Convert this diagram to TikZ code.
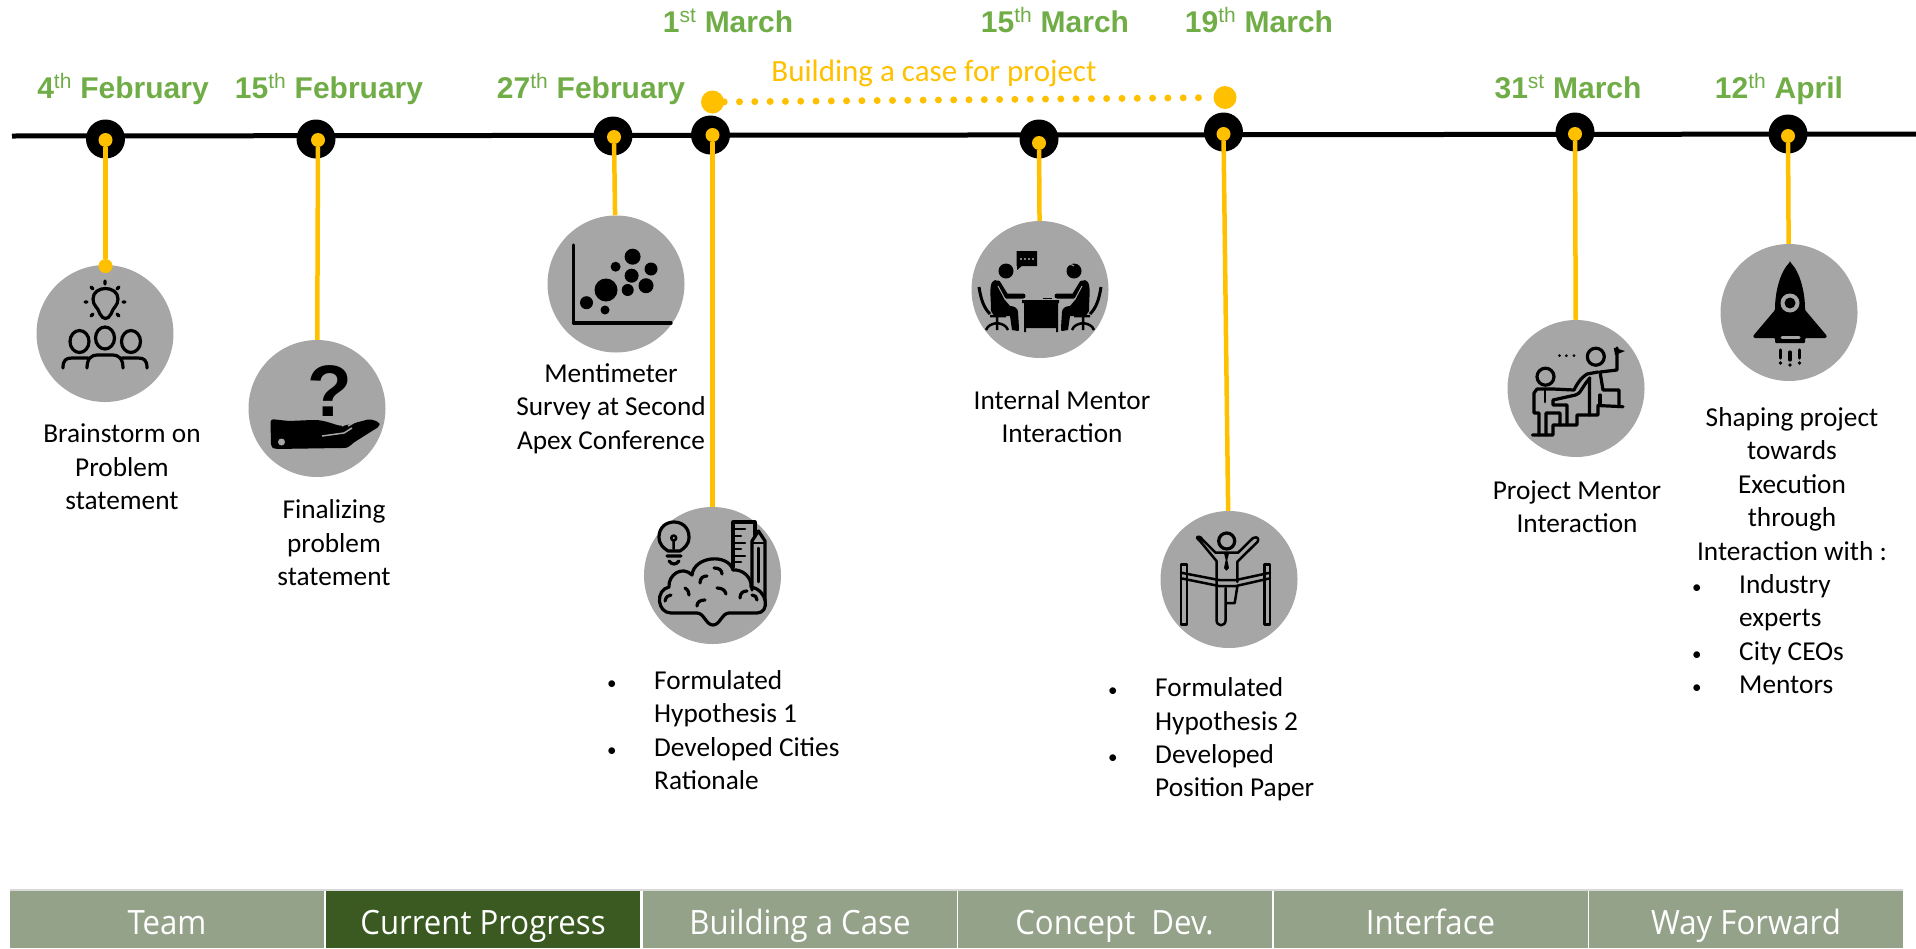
\documentclass[tikz,border=0pt]{standalone}
\usepackage{fontspec}
\setmainfont{Carlito}
\newfontfamily\datefont{Liberation Sans}
\newfontfamily\tabfont[FakeStretch=0.93]{Open Sans}
\definecolor{pinyellow}{HTML}{FFC000}
\definecolor{dategreen}{HTML}{70AD47}
\definecolor{badgegrey}{HTML}{A6A6A6}
\definecolor{tabgreen}{HTML}{95A28A}
\definecolor{tabdark}{HTML}{3A5A22}
\newcommand{\listmark}{\makebox[47pt][l]{\fontsize{19}{19}\selectfont\textbullet}}
\newcommand{\listgap}{\hspace*{47pt}}
\newcommand{\sitter}{
    \fill (1006,271) circle [radius=7.5];
    \fill (995,280) .. controls (990,281) and (990,290) .. (990.7,300) -- (991,311) .. controls (992,314) and (994,316) .. (998,316) -- (1010,316) -- (1012,330) -- (1018,331) .. controls (1019,331) and (1019,330) .. (1019,328) -- (1018,312) .. controls (1018,308) and (1014,306) .. (1010,306) -- (1004,299) -- (1000,282) -- cycle;
    \draw [line width=5pt, line cap=round, line join=round] (998,283) -- (1006,296) -- (1023,296);
    \draw [draw=badgegrey, line width=1pt] (998,286) -- (1005,299);
    \draw [line width=3pt] (979,287) .. controls (981,300) and (984,308) .. (990,314);
    \draw [line width=2.5pt] (990,316) -- (1006,316) (997,316) -- (997,323) (986,330) .. controls (988,325) and (992,324) .. (997,323) .. controls (1002,324) and (1006,325) .. (1008,330) (997,323) -- (997,330);
}
\tikzset{
    spine/.style={draw=black, line width=5pt},
    mile/.style={circle, fill=black, inner sep=0pt, minimum size=39pt},
    pin/.style={circle, fill=pinyellow, inner sep=0pt, minimum size=14pt},
    flagdot/.style={circle, fill=pinyellow, inner sep=0pt, minimum size=23pt},
    badge/.style={circle, fill=badgegrey, inner sep=0pt, minimum size=137pt},
    stem/.style={draw=pinyellow, line width=4.5pt},
    datelabel/.style={anchor=base, text=dategreen, font=\datefont\bfseries\fontsize{30}{33}\selectfont},
    desc/.style={align=center, inner sep=0pt, font=\fontsize{27.3}{33.4}\selectfont},
    listing/.style={anchor=west, align=left, inner sep=0pt, font=\fontsize{27.3}{33.4}\selectfont},
    tab/.style={fill=tabgreen, text=white, inner sep=0pt, minimum width=314pt, minimum height=58pt, text height=39pt, text depth=8pt, font=\tabfont\fontsize{33.5}{36}\selectfont},
    iconline/.style={draw=black, line width=3.2pt, line cap=round, line join=round},
    iconthin/.style={draw=black, line width=2.5pt, line cap=round, line join=round}
}
\begin{document}
\begin{tikzpicture}[x=1pt, y=-1pt]
    \useasboundingbox (0,0) rectangle (1916,948);

    \coordinate (s) at (12,136);
    \coordinate (e) at (1916,134);
    \draw [spine] (s) -- (e);

    \node[mile] (m1) at (105.5,139) {};
    \node[mile] (m2) at (316,139) {};
    \node[mile] (m3) at (613,136) {};
    \node[mile] (m4) at (710.5,135) {};
    \node[mile] (m5) at (1039,139) {};
    \node[mile] (m6) at (1223.5,132) {};
    \node[mile] (m7) at (1575,132) {};
    \node[mile] (m8) at (1788,134) {};

    \node[pin] (p1) at (105.5,140) {};
    \node[pin] (p2) at (318,140) {};
    \node[pin] (p3) at (614,137) {};
    \node[pin] (p4) at (712.5,135) {};
    \node[pin] (p5) at (1039,143) {};
    \node[pin] (p6) at (1223.5,134) {};
    \node[pin] (p7) at (1575,134) {};
    \node[pin] (p8) at (1788,136) {};

    \node[badge] (b1) at (105,333.5) {};
    \node[badge] (b2) at (317,408.5) {};
    \node[badge] (b3) at (616,284) {};
    \node[badge] (b4) at (712.5,575.5) {};
    \node[badge] (b5) at (1040,289.5) {};
    \node[badge] (b6) at (1229,579.5) {};
    \node[badge] (b7) at (1576,388.5) {};
    \node[badge] (b8) at (1789,312.5) {};
    \node[pin] (t1) at (105.5,266) {};

    \draw [stem] (p1) -- (t1);
    \draw [stem] (p2) -- (b2);
    \draw [stem] (p3) -- (b3);
    \draw [stem] (p4) -- (b4);
    \draw [stem] (p5) -- (b5);
    \draw [stem] (p6) -- (b6);
    \draw [stem] (p7) -- (b7);
    \draw [stem] (p8) -- (b8);

    \node[flagdot] (f1) at (712.5,102) {};
    \node[flagdot] (f2) at (1225,97.5) {};
    \draw [draw=pinyellow, line width=7pt, line cap=round, dash pattern=on 0pt off 15.3pt] (f1) -- (f2);
    \node[text=pinyellow, font=\fontsize{31}{33}\selectfont] (c1) at (934,73) {Building a case for project};

    \node[datelabel] (d1) at (123,98) {4\textsuperscript{\mdseries th} February};
    \node[datelabel] (d2) at (329,98) {15\textsuperscript{\mdseries th} February};
    \node[datelabel] (d3) at (591,98) {27\textsuperscript{\mdseries th} February};
    \node[datelabel] (d4) at (728,32) {1\textsuperscript{\mdseries st} March};
    \node[datelabel] (d5) at (1055,32) {15\textsuperscript{\mdseries th} March};
    \node[datelabel] (d6) at (1259,32) {19\textsuperscript{\mdseries th} March};
    \node[datelabel] (d7) at (1568,98) {31\textsuperscript{\mdseries st} March};
    \node[datelabel] (d8) at (1779,98) {12\textsuperscript{\mdseries th} April};

    \node[desc] (l1) at (122,467) {Brainstorm on\\Problem\\statement};
    \node[desc] (l2) at (334,543) {Finalizing\\problem\\statement};
    \node[desc] (l3) at (611,408.5) {Mentimeter\\Survey at Second\\Apex Conference};
    \node[desc] (l5) at (1062,416.5) {Internal Mentor\\Interaction};
    \node[desc] (l7) at (1577,506.5) {Project Mentor\\Interaction};
    \node[desc] (l8) at (1792,484) {Shaping project\\towards\\Execution\\through\\Interaction with :};
    \node[listing] (l4) at (607,730) {\listmark Formulated\\\listgap Hypothesis 1\\\listmark Developed Cities\\\listgap Rationale};
    \node[listing] (l6) at (1108,739.5) {\listmark Formulated\\\listgap Hypothesis 2\\\listmark Developed\\\listgap Position Paper};
    \node[listing] (l9) at (1692,634) {\listmark Industry\\\listgap experts\\\listmark City CEOs\\\listmark Mentors};

    \node[tab] (n1) at (167,919) {Team};
    \node[tab, fill=tabdark] (n2) at (483,919) {Current Progress};
    \node[tab] (n3) at (800,919) {Building a Case};
    \node[tab] (n4) at (1114.5,919) {Concept\ \ Dev.};
    \node[tab] (n5) at (1430.5,919) {Interface};
    \node[tab] (n6) at (1746,919) {Way Forward};
    \draw [draw=black!15, line width=2pt] (n1.north west) -- (n6.north east);

    \draw [iconline] (100,314) .. controls (98,307) and (93,306) .. (93,299) .. controls (93,285) and (118,285) .. (118,299) .. controls (118,306) and (113,307) .. (111,314) .. controls (108,320) and (103,320) .. (100,314);
    \draw [iconline] (105,281) -- (105,284) (119,287) -- (117,289) (125,302) -- (123,302) (119,316) -- (117,314) (91,316) -- (93,314) (85,302) -- (87,302) (91,287) -- (93,289);
    \draw [iconline] (79.5,341.5) circle [x radius=9.5, y radius=11] (105,338) circle [x radius=9.5, y radius=11] (131,341.5) circle [x radius=9.5, y radius=11];
    \draw [iconline] (63,368) .. controls (63,360) and (66,358) .. (72,358) -- (88,358) (87,368) .. controls (87,358) and (92,355) .. (97,355) -- (113,355) .. controls (118,355) and (123,358) .. (123,368) (122,358) -- (138,358) .. controls (144,358) and (147,360) .. (147,368);

    \node[inner sep=0pt, font=\datefont\bfseries\fontsize{73}{73}\selectfont] (q) at (330,391) {?};
    \fill [rounded corners=3pt] (270.5,419) -- (289,421) -- (312,420) .. controls (325,420) and (335,425) .. (343,426) -- (370,419) -- (379,422) -- (380,426) -- (353,443) .. controls (349,447) and (347,448) .. (340,448) -- (275,449) -- (271,447) -- cycle;
    \fill [badgegrey] (281.5,442) circle [radius=3.5];
    \draw [draw=badgegrey, line width=1.5pt] (322,436) -- (344,433) .. controls (346,432) and (350,429) .. (352,428) (342,426) -- (352,420) (348,426) -- (360,419);

    \draw [iconline] (573.5,245) -- (573.5,323) -- (671,323);
    \fill (632.6,256.7) circle [radius=8] (615.6,266.7) circle [radius=5] (651,269) circle [radius=6.5] (631.6,275.7) circle [radius=7] (646,285.7) circle [radius=7.5] (627.7,290) circle [radius=6] (606,290) circle [radius=11.5] (586.5,302.7) circle [radius=6.5] (605,310) circle [radius=4.5];

    \draw [iconline] (668,551) .. controls (664,548) and (659,545) .. (659,537) .. controls (659,517) and (689,517) .. (689,537) .. controls (689,545) and (684,548) .. (680,551) -- cycle;
    \draw [iconthin] (673.7,538) circle [radius=2.5] (673.7,541) -- (673.7,549);
    \draw [iconline] (667,556) -- (681,556) (669,561) .. controls (672,565) and (676,565) .. (679,561);
    \draw [iconline] (733,567) -- (733,522) -- (755,522) -- (755,535);
    \draw [iconthin] (733,529) -- (745,529) (733,536) -- (741,536) (733,543) -- (745,543) (733,549) -- (741,549) (733,556) -- (745,556) (733,562) -- (741,562);
    \draw [iconline] (752,590) -- (752,541) -- (758.5,531) -- (765,541) -- (765,600);
    \draw [iconthin] (752,543) -- (765,543) (758.5,548) -- (758.5,582);
    \draw [iconline] (671,613) .. controls (657,613) and (655,590) .. (669,587) .. controls (668,575) and (682,565) .. (692,575) .. controls (694,556) and (728,553) .. (733,570) .. controls (742,569) and (752,577) .. (751,587) .. controls (768,590) and (770,613) .. (757,613) -- (729,613) .. controls (722,613) and (720,625) .. (713,625) .. controls (706,625) and (704,613) .. (697,613) -- cycle;
    \draw [iconline] (665,601) .. controls (666,597) and (668,595) .. (671,595) (700,583) .. controls (700,578) and (703,576) .. (707,576) (714,568) .. controls (719,568) and (722,570) .. (722,574) (717,588) .. controls (722,588) and (725,590) .. (726,594) (697,606) .. controls (697,602) and (700,600) .. (705,600) (740,598) .. controls (740,593) and (743,591) .. (747,591) (752,595) .. controls (755,595) and (757,597) .. (757,600) (685,588) .. controls (688,590) and (689,592) .. (689,595);

    \sitter
    \begin{scope}[shift={(2080,0)}, xscale=-1]
        \sitter
    \end{scope}
    \fill (1016.5,251) rectangle (1037,266) (1017,262) -- (1017,270) -- (1023,265) -- cycle;
    \fill [white] (1021,259) circle [radius=0.8] (1025,259) circle [radius=0.8] (1029,259) circle [radius=0.8] (1033,259) circle [radius=0.8];
    \draw [draw=badgegrey, line width=1pt] (1066,267) .. controls (1068,264) and (1072,264) .. (1074,266);
    \fill (1022,300) rectangle (1059,303) (1024,303) rectangle (1058,328) (1024,328) rectangle (1026,332) (1056,328) rectangle (1058,332);
    \draw [draw=black, line width=1pt] (1043,298) -- (1052,298);

    \draw [iconline] (1226.7,541) circle [radius=8];
    \draw [iconthin] (1216.5,561) -- (1200,541) .. controls (1196,538) and (1196,536) .. (1200,537) -- (1215.5,552.7) -- (1238,552.7) -- (1253,538) .. controls (1258,536) and (1259,539) .. (1257.6,541.7) -- (1237.4,561.7) -- (1237.4,582);
    \draw [iconthin] (1216.5,561) -- (1216.5,620) .. controls (1216.5,627) and (1225.6,627) .. (1225.6,620) -- (1225.6,588) (1237.4,586) -- (1234.7,603) -- (1226,603);
    \fill (1224,553.3) -- (1229,553.3) -- (1227.3,560) -- (1229,568) -- (1226.3,570.7) -- (1224,568) -- (1225.7,560) -- cycle;
    \draw [iconthin] (1181.2,564.3) rectangle (1187,624.3) (1264.4,564.3) rectangle (1270,624.3);
    \draw [iconthin] (1181,572.7) -- (1219,580) -- (1236,580) -- (1270,572.7) (1181,578.3) -- (1219,586) -- (1236,586) -- (1270,578.3);

    \fill (1559.5,355.7) circle [radius=1.5] (1566.4,355.7) circle [radius=1.5] (1574,355.7) circle [radius=1.5];
    \draw [iconline] (1595.8,356.7) circle [radius=8.5] (1545.5,376.7) circle [radius=8.5];
    \fill (1613.8,347.7) -- (1625,351) -- (1615,355) -- cycle;
    \draw [iconline] (1617,348) -- (1617,370) -- (1600,372) -- (1603,390) -- (1619,390) -- (1619,406.7);
    \draw [iconline] (1532.4,435) -- (1553,435) -- (1553,425) -- (1577,425) -- (1577,415) -- (1598,415) -- (1598,405.5) -- (1623,406.7);
    \draw [iconline] (1600,395) -- (1600,405);
    \draw [iconline] (1589.4,378) -- (1589.4,415) (1587,374) -- (1598,372);
    \draw [iconline] (1539,435) -- (1539,413) -- (1534,413) -- (1534,393) -- (1537,389) -- (1553,389) -- (1574,390) .. controls (1578,382) and (1581,378) .. (1587,374);
    \draw [iconline] (1590,378) .. controls (1583,385) and (1580,395) .. (1575.5,395) -- (1553,400) -- (1553,405) -- (1567,405) -- (1567,425) (1546,435) -- (1546,413) -- (1560,413) -- (1560,425);
    \draw [iconthin] (1545,389) -- (1545,402);

    \fill [rounded corners=1pt] (1790,262) .. controls (1780,272) and (1775,292) .. (1775,310) -- (1753,336) -- (1754,338) -- (1775,338) -- (1775,343) -- (1805,343) -- (1805,338) -- (1826,338) -- (1827,336) -- (1805,310) .. controls (1805,292) and (1800,272) .. cycle;
    \fill [badgegrey] (1790,303) circle [radius=9.5];
    \fill (1790,303) circle [radius=5.5];
    \draw [draw=badgegrey, line width=3pt, line cap=round] (1782,337) -- (1799,337);
    \draw [iconline] (1780.5,350) -- (1780.5,358) (1790,352) -- (1790,360) (1799.5,350) -- (1799.5,358);
    \fill (1780.5,363) circle [radius=1.8] (1790,365) circle [radius=1.8] (1799.5,363) circle [radius=1.8];
\end{tikzpicture}
\end{document}
